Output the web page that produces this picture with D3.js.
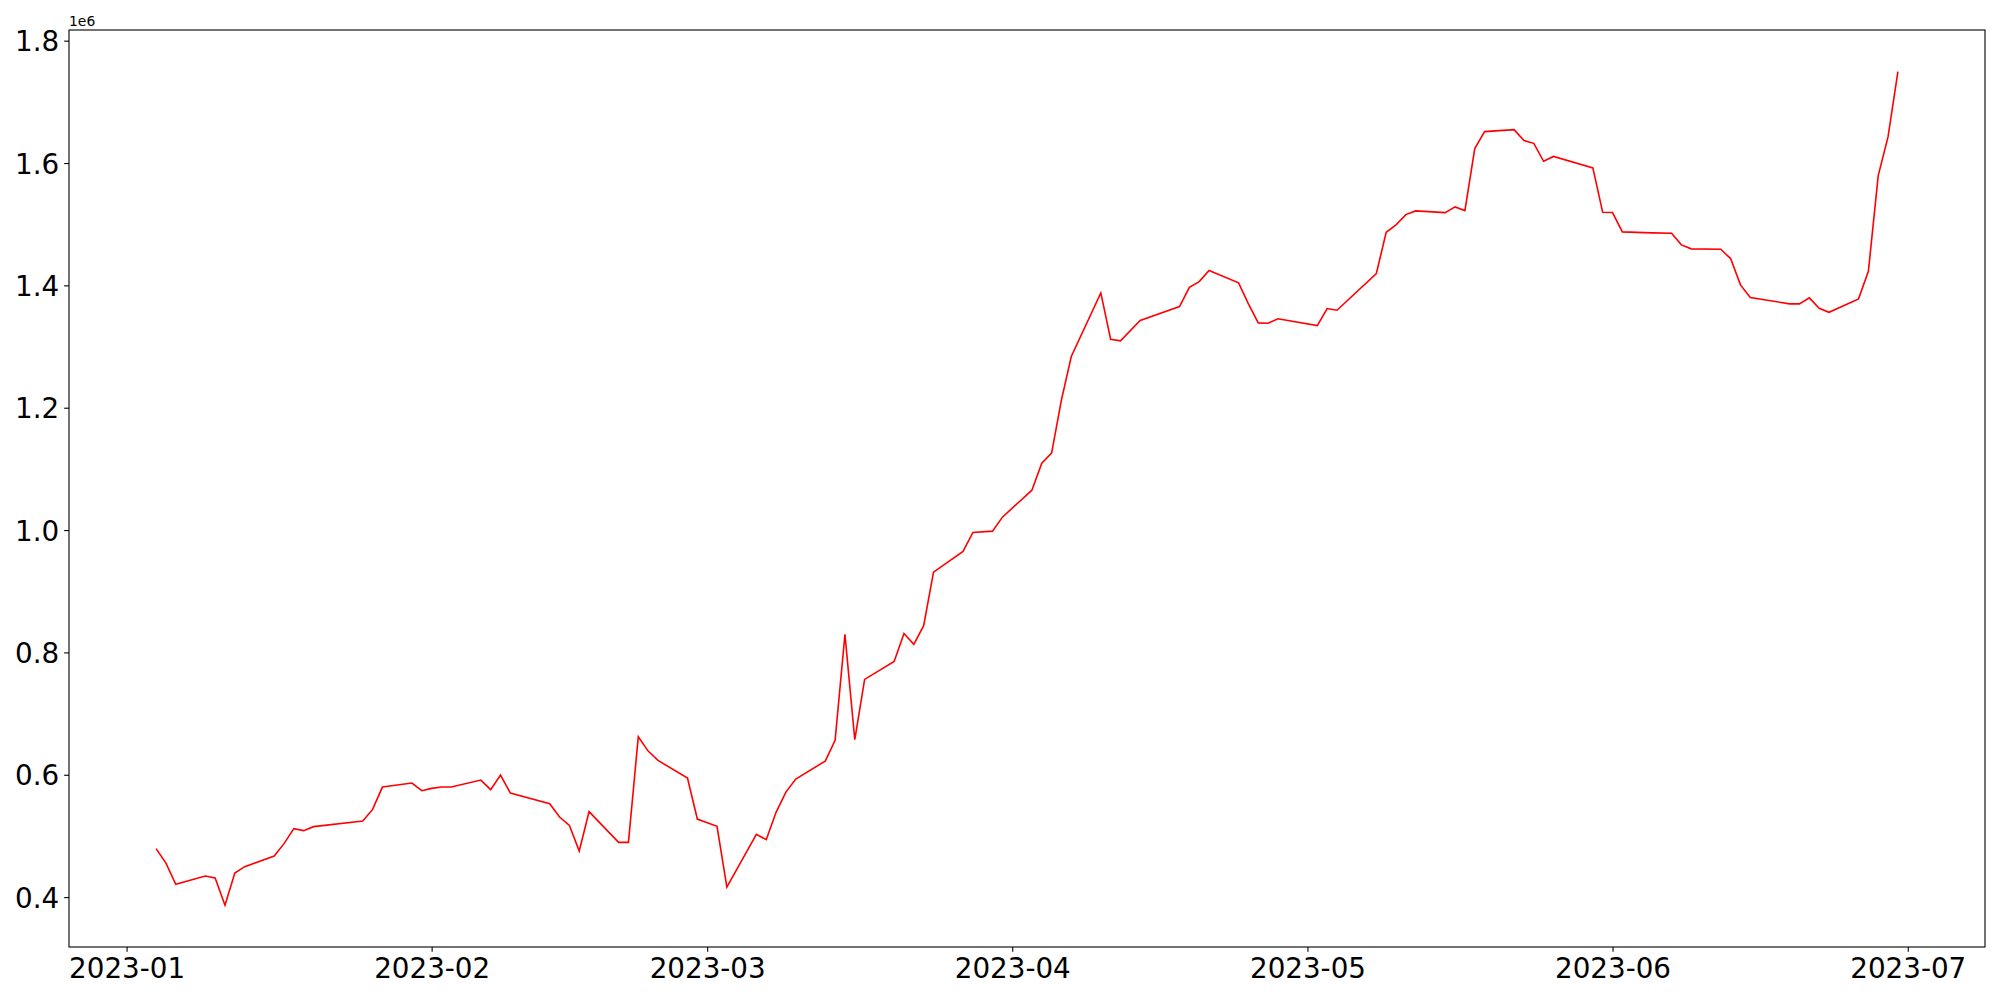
<!DOCTYPE html>
<html lang="en">
<head>
<meta charset="utf-8">
<script src="https://cdnjs.cloudflare.com/ajax/libs/d3/7.8.5/d3.min.js"></script>
<style>
    body { margin: 0; background: #fff; }
    svg { display: block; }
</style>
</head>
<body>
<div id="chart"></div>
<script>

// dates and values
var dates = [
    "2023-01-04","2023-01-05","2023-01-06","2023-01-09","2023-01-10","2023-01-11","2023-01-12","2023-01-13",
    "2023-01-16","2023-01-17","2023-01-18","2023-01-19","2023-01-20","2023-01-25","2023-01-26","2023-01-27",
    "2023-01-30","2023-01-31","2023-02-01","2023-02-02","2023-02-03","2023-02-06","2023-02-07","2023-02-08",
    "2023-02-09","2023-02-13","2023-02-14","2023-02-15","2023-02-16","2023-02-17","2023-02-20","2023-02-21",
    "2023-02-22","2023-02-23","2023-02-24","2023-02-27","2023-02-28","2023-03-02","2023-03-03","2023-03-06",
    "2023-03-07","2023-03-08","2023-03-09","2023-03-10","2023-03-13","2023-03-14","2023-03-15","2023-03-16",
    "2023-03-17","2023-03-20","2023-03-21","2023-03-22","2023-03-23","2023-03-24","2023-03-27","2023-03-28",
    "2023-03-30","2023-03-31","2023-04-03","2023-04-04","2023-04-05","2023-04-06","2023-04-07","2023-04-10",
    "2023-04-11","2023-04-12","2023-04-14","2023-04-18","2023-04-19","2023-04-20","2023-04-21","2023-04-24",
    "2023-04-25","2023-04-26","2023-04-27","2023-04-28","2023-05-02","2023-05-03","2023-05-04","2023-05-08",
    "2023-05-09","2023-05-10","2023-05-11","2023-05-12","2023-05-15","2023-05-16","2023-05-17","2023-05-18",
    "2023-05-19","2023-05-22","2023-05-23","2023-05-24","2023-05-25","2023-05-26","2023-05-30","2023-05-31",
    "2023-06-01","2023-06-02","2023-06-05","2023-06-07","2023-06-08","2023-06-09","2023-06-12","2023-06-13",
    "2023-06-14","2023-06-15","2023-06-19","2023-06-20","2023-06-21","2023-06-22","2023-06-23","2023-06-26",
    "2023-06-27","2023-06-28","2023-06-29","2023-06-30"
];

var values = [
    479200, 455700, 420900, 434500, 431200, 386600, 439400, 449800,
    467100, 487400, 511900, 508700, 515200, 524300, 543400, 579900,
    586500, 574000, 577800, 579900, 579900, 591300, 575600, 599500,
    570100, 552700, 530900, 517300, 475300, 539700, 489500, 489500,
    662200, 638700, 623500, 594600, 527600, 515700, 416500, 502600,
    493900, 538600, 571700, 593000, 622400, 656200, 829400, 657300,
    755900, 785300, 831000, 813100, 843600, 931200, 965000, 996100,
    998200, 1021100, 1065200, 1109300, 1125700, 1212900, 1283700, 1387700,
    1311900, 1309300, 1342500, 1365400, 1396900, 1406200, 1424200, 1404100,
    1369800, 1338700, 1338100, 1345300, 1334300, 1362100, 1359300, 1419300,
    1486800, 1498800, 1515700, 1521700, 1519000, 1528300, 1522200, 1623500,
    1651300, 1654600, 1636600, 1632200, 1602800, 1610700, 1592000, 1519400,
    1519000, 1487400, 1485800, 1485100, 1466200, 1459700, 1459000, 1443800,
    1400800, 1380100, 1369800, 1369800, 1379600, 1362600, 1356000, 1377900,
    1423000, 1579400, 1643100, 1749300
];

var monthTicks = ["2023-01","2023-02","2023-03","2023-04","2023-05","2023-06","2023-07"];
var yTicks = [400000, 600000, 800000, 1000000, 1200000, 1400000, 1600000, 1800000];
var offsetLabel = "1e6";

(function() {

    var width = 2000;
    var height = 1000;
    var margin = {top: 30, right: 15, bottom: 53, left: 69};
    var fontSize = 27.78;   // 20pt at 100 dpi
    var tickLen = 4.86;
    var font = "'DejaVu Sans', sans-serif";

    var parseDay = d3.timeParse("%Y-%m-%d");
    var parseMonth = d3.timeParse("%Y-%m");

    var data = dates.map(function(d, i) {
        return {date: parseDay(d), value: values[i]};
    });

    // matplotlib style 5% margins on both axes
    var xExt = d3.extent(data, d => d.date);
    var xPad = (xExt[1] - xExt[0]) * 0.05;
    var yExt = d3.extent(data, d => d.value);
    var yPad = (yExt[1] - yExt[0]) * 0.05;

    var x = d3.scaleTime()
        .domain([new Date(+xExt[0] - xPad), new Date(+xExt[1] + xPad)])
        .range([margin.left, width - margin.right]);

    var y = d3.scaleLinear()
        .domain([yExt[0] - yPad, yExt[1] + yPad])
        .range([height - margin.bottom, margin.top]);

    var svg = d3.select("#chart")
        .append("svg")
        .attr("width", width)
        .attr("height", height)
        .attr("font-family", font);

    // the line
    var line = d3.line()
        .x(d => x(d.date))
        .y(d => y(d.value));

    svg.append("path")
        .datum(data)
        .attr("fill", "none")
        .attr("stroke", "red")
        .attr("stroke-width", 1.6)
        .attr("stroke-linejoin", "miter")
        .attr("d", line);

    // x axis
    var xAxis = svg.append("g")
        .attr("transform", "translate(0," + (height - margin.bottom) + ")")
        .call(d3.axisBottom(x)
            .tickValues(monthTicks.map(parseMonth))
            .tickFormat(d3.timeFormat("%Y-%m"))
            .tickSize(tickLen)
            .tickPadding(tickLen));

    // y axis
    var yAxis = svg.append("g")
        .attr("transform", "translate(" + margin.left + ",0)")
        .call(d3.axisLeft(y)
            .tickValues(yTicks)
            .tickFormat(d => (d / 1e6).toFixed(1))
            .tickSize(tickLen)
            .tickPadding(tickLen));

    [xAxis, yAxis].forEach(function(g) {
        g.attr("font-family", font).attr("font-size", fontSize);
        g.select(".domain").remove();
        g.selectAll(".tick line")
            .attr("stroke", "#000")
            .attr("stroke-width", 1.1);
        g.selectAll(".tick text")
            .attr("fill", "#000");
    });
    yAxis.selectAll(".tick text").attr("dy", "0.36em");
    xAxis.selectAll(".tick text").attr("dy", "0.76em");

    // frame round the plot
    svg.append("rect")
        .attr("x", margin.left)
        .attr("y", margin.top)
        .attr("width", width - margin.left - margin.right)
        .attr("height", height - margin.top - margin.bottom)
        .attr("fill", "none")
        .attr("stroke", "#000")
        .attr("stroke-width", 1.1);

    // scientific offset text
    svg.append("text")
        .attr("x", margin.left)
        .attr("y", margin.top - 4)
        .attr("font-size", 13.9)
        .attr("fill", "#000")
        .text(offsetLabel);

})();
</script>
</body>
</html>
